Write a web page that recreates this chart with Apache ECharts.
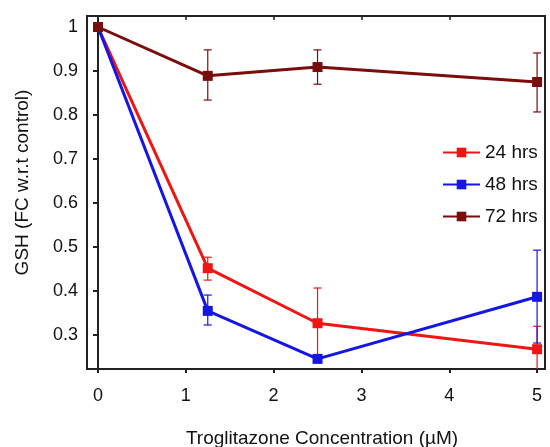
<!DOCTYPE html>
<html>
<head>
<meta charset="utf-8">
<script src="https://cdn.jsdelivr.net/npm/echarts@6/dist/echarts.min.js"></script>
<style>
  html, body { margin: 0; padding: 0; background: #fff; }
  #chart { width: 550px; height: 447px; }
</style>
</head>
<body>
<div id="chart"></div>
<script>
const concentrations = [0, 1.25, 2.5, 5];
const seriesNames = ["24 hrs", "48 hrs", "72 hrs"];
const gsh24 = [1, 0.452, 0.327, 0.268];
const gsh48 = [1, 0.355, 0.246, 0.387];
const gsh72 = [1, 0.889, 0.909, 0.875];
// error bar limits [low, high] per point
const err24 = [[1, 1], [0.425, 0.477], [0.248, 0.407], [0.21, 0.32]];
const err48 = [[1, 1], [0.323, 0.391], [0.24, 0.252], [0.282, 0.493]];
const err72 = [[1, 1], [0.834, 0.948], [0.870, 0.948], [0.807, 0.941]];
const xTicks = [0, 1, 2, 3, 4, 5];
const yTicks = [0.3, 0.4, 0.5, 0.6, 0.7, 0.8, 0.9, 1];

const colors = ["#ee1515", "#1515e6", "#7a0c0c"];
const font = "Liberation Sans, Arial, sans-serif";
const frame = "#222222";

const chart = echarts.init(document.getElementById("chart"));

function line(name, values, color) {
  return {
    name,
    type: "line",
    data: values.map((v, i) => [concentrations[i], v]),
    symbol: "rect",
    symbolSize: 10,
    lineStyle: { color, width: 3 },
    itemStyle: { color },
    z: 3,
  };
}

function errorBars(name, limits, color) {
  return {
    name: name + " error",
    type: "custom",
    clip: true,
    data: limits.map((l, i) => [concentrations[i], l[0], l[1]]),
    renderItem(params, api) {
      const lo = api.coord([api.value(0), api.value(1)]);
      const hi = api.coord([api.value(0), api.value(2)]);
      const w = 4;
      const style = { stroke: color, lineWidth: 1.2 };
      return {
        type: "group",
        children: [
          { type: "line", shape: { x1: lo[0], y1: lo[1], x2: hi[0], y2: hi[1] }, style },
          { type: "line", shape: { x1: lo[0] - w, y1: lo[1], x2: lo[0] + w, y2: lo[1] }, style },
          { type: "line", shape: { x1: hi[0] - w, y1: hi[1], x2: hi[0] + w, y2: hi[1] }, style },
        ],
      };
    },
    z: 2,
  };
}

const xBase = {
  type: "value",
  min: -0.125,
  max: 5.09,
  splitLine: { show: false },
};
const yBase = {
  type: "value",
  min: 0.223,
  max: 1.025,
  splitLine: { show: false },
};

chart.setOption({
  animation: false,
  backgroundColor: "#ffffff",
  grid: {
    left: 87, right: 5, top: 16, bottom: 78,
    outerBoundsMode: "none",
    show: true, borderColor: frame, borderWidth: 2,
  },
  legend: {
    data: seriesNames,
    orient: "vertical",
    left: 437,
    top: 138,
    itemWidth: 37,
    itemHeight: 12,
    itemGap: 13,
    textStyle: { fontFamily: font, fontSize: 19, color: "#111" },
  },
  xAxis: [
    {
      ...xBase,
      name: "Troglitazone Concentration (µM)",
      nameLocation: "middle",
      nameGap: 60,
      nameTextStyle: { fontFamily: font, fontSize: 19, color: "#111", padding: [0, 0, 0, 12] },
      axisLine: { lineStyle: { color: frame, width: 2 } },
      axisTick: { customValues: xTicks, length: 4, lineStyle: { color: frame, width: 2 } },
      axisLabel: { customValues: xTicks, margin: 18, fontFamily: font, fontSize: 18, color: "#111" },
    },
    {
      ...xBase,
      position: "top",
      axisLine: { show: false },
      axisTick: { customValues: [1, 2, 3, 4], inside: true, length: 4, lineStyle: { color: frame, width: 1.5 } },
      axisLabel: { show: false },
    },
  ],
  yAxis: [
    {
      ...yBase,
      name: "GSH (FC w.r.t control)",
      nameLocation: "middle",
      nameGap: 55,
      nameTextStyle: { fontFamily: font, fontSize: 19, color: "#111", padding: [0, 0, 0, 20] },
      axisLine: { show: true, lineStyle: { color: frame, width: 2 } },
      axisTick: { show: true, customValues: yTicks, length: 5, lineStyle: { color: frame, width: 2 } },
      axisLabel: {
        customValues: yTicks, margin: 9, fontFamily: font, fontSize: 18, color: "#111",
        formatter: (v) => String(Math.round(v * 10) / 10),
      },
    },
    {
      ...yBase,
      position: "right",
      axisLine: { show: false },
      axisTick: { show: true, customValues: yTicks, inside: true, length: 4, lineStyle: { color: frame, width: 1.5 } },
      axisLabel: { show: false },
    },
  ],
  series: [
    errorBars("24 hrs", err24, colors[0]),
    errorBars("48 hrs", err48, colors[1]),
    errorBars("72 hrs", err72, colors[2]),
    line("24 hrs", gsh24, colors[0]),
    line("48 hrs", gsh48, colors[1]),
    line("72 hrs", gsh72, colors[2]),
  ],
});
</script>
</body>
</html>
